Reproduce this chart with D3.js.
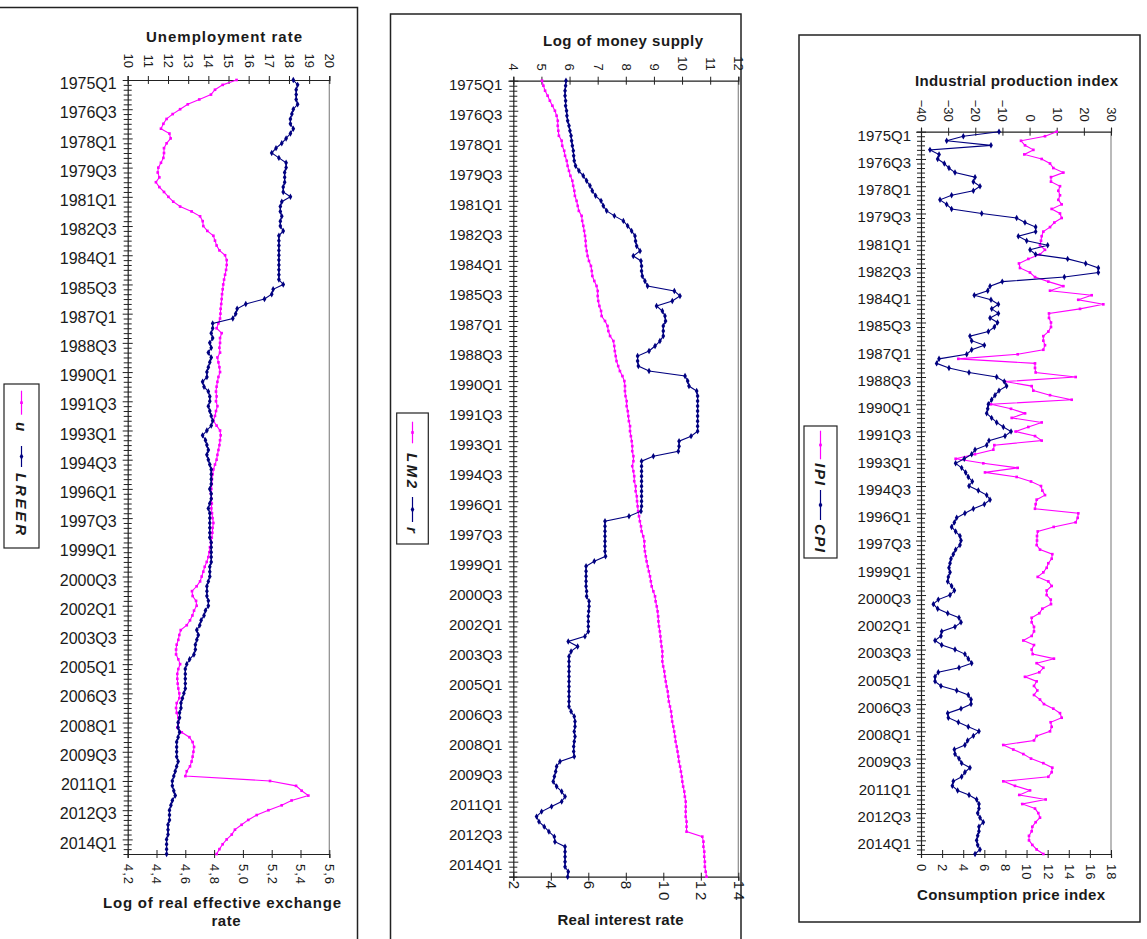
<!DOCTYPE html>
<html>
<head>
<meta charset="utf-8">
<script src="https://cdn.jsdelivr.net/npm/d3@7"></script>
<style>
  body { margin: 0; background: #fff; }
  text { font-family: "Liberation Sans", Arial, sans-serif; fill: #1a1a1a; }
</style>
</head>
<body>
<script>
/* Quarterly data, 1975Q1 .. 2014Q4 (160 quarters) */
var quarters = [];
for (var yr = 1975; yr <= 2014; yr++) {
  for (var q = 1; q <= 4; q++) quarters.push(yr + "Q" + q);
}

/* Panel 1: unemployment rate (top axis) and log REER (bottom axis) */
var u = [15.40,14.71,14.33,14.13,13.55,12.98,12.60,12.23,11.93,11.77,
  11.65,12.07,12.13,11.93,11.80,11.80,11.77,11.65,11.52,11.49,
  11.57,11.40,11.57,11.80,12.02,12.26,12.60,13.17,13.59,13.72,
  13.75,13.95,14.25,14.33,14.41,14.55,14.83,14.91,14.91,14.88,
  14.83,14.78,14.74,14.71,14.68,14.66,14.64,14.61,14.60,14.58,
  14.50,14.41,14.66,14.58,14.58,14.55,14.58,14.45,14.50,14.55,
  14.58,14.50,14.45,14.41,14.38,14.41,14.38,14.45,14.38,14.33,
  14.25,14.41,14.58,14.61,14.58,14.55,14.50,14.45,14.41,14.33,
  14.25,14.21,14.18,14.17,14.15,14.13,14.15,14.17,14.15,14.18,
  14.21,14.25,14.21,14.20,14.17,14.13,14.08,14.05,14.00,13.92,
  13.82,13.75,13.67,13.59,13.42,13.19,13.22,13.39,13.42,13.29,
  13.21,13.09,12.93,12.63,12.56,12.51,12.43,12.40,12.40,12.51,
  12.60,12.51,12.46,12.46,12.48,12.51,12.56,12.56,12.43,12.40,
  12.43,12.51,12.51,12.46,12.68,13.06,13.22,13.29,13.26,13.22,
  13.17,13.09,12.93,12.86,17.06,18.35,18.63,18.96,18.13,17.64,
  16.98,16.40,15.98,15.65,15.32,15.16,14.91,14.71,14.55,14.41];

var lreer = [5.35,5.38,5.37,5.37,5.37,5.38,5.35,5.34,5.33,5.33,
  5.35,5.33,5.30,5.27,5.23,5.20,5.25,5.30,5.30,5.29,
  5.29,5.29,5.28,5.28,5.33,5.27,5.26,5.26,5.27,5.26,
  5.26,5.28,5.25,5.25,5.25,5.25,5.25,5.25,5.25,5.25,
  5.25,5.25,5.28,5.21,5.20,5.15,5.02,4.96,4.95,4.93,
  4.79,4.79,4.78,4.79,4.77,4.78,4.76,4.78,4.77,4.76,
  4.75,4.75,4.72,4.73,4.76,4.77,4.77,4.76,4.77,4.78,
  4.79,4.78,4.75,4.72,4.74,4.75,4.76,4.75,4.76,4.77,
  4.78,4.78,4.78,4.78,4.77,4.78,4.78,4.77,4.76,4.77,
  4.77,4.77,4.77,4.77,4.77,4.78,4.78,4.78,4.78,4.78,
  4.77,4.77,4.77,4.76,4.75,4.75,4.75,4.76,4.76,4.74,
  4.73,4.71,4.70,4.68,4.69,4.68,4.67,4.67,4.66,4.63,
  4.61,4.60,4.60,4.60,4.60,4.60,4.59,4.58,4.57,4.57,
  4.56,4.56,4.55,4.55,4.56,4.55,4.54,4.54,4.54,4.54,
  4.55,4.54,4.53,4.52,4.51,4.51,4.52,4.53,4.51,4.50,
  4.49,4.49,4.49,4.48,4.48,4.48,4.47,4.47,4.47,4.47];

/* Panel 2: log of money supply (top axis) and real interest rate (bottom axis) */
var lm2 = [5.02,5.07,5.13,5.22,5.30,5.39,5.48,5.54,5.58,5.58,
  5.60,5.62,5.72,5.74,5.81,5.84,5.90,5.93,5.98,6.03,
  6.10,6.13,6.17,6.19,6.25,6.29,6.33,6.43,6.45,6.49,
  6.52,6.55,6.57,6.58,6.61,6.64,6.69,6.76,6.79,6.81,
  6.88,6.96,7.00,7.00,7.02,7.06,7.12,7.14,7.26,7.35,
  7.38,7.44,7.56,7.59,7.61,7.64,7.67,7.73,7.79,7.88,
  7.95,7.97,7.97,7.99,8.03,8.03,8.07,8.09,8.11,8.15,
  8.15,8.18,8.21,8.23,8.23,8.27,8.27,8.23,8.27,8.30,
  8.30,8.35,8.35,8.39,8.40,8.42,8.44,8.47,8.50,8.54,
  8.56,8.62,8.66,8.66,8.68,8.71,8.74,8.78,8.82,8.86,
  8.89,8.92,8.98,9.04,9.06,9.10,9.13,9.15,9.16,9.18,
  9.21,9.23,9.25,9.27,9.30,9.30,9.30,9.33,9.37,9.39,
  9.42,9.45,9.49,9.51,9.53,9.57,9.61,9.63,9.65,9.69,
  9.72,9.75,9.77,9.81,9.84,9.87,9.89,9.93,9.96,9.99,
  10.01,10.04,10.08,10.10,10.13,10.13,10.13,10.13,10.16,10.16,
  10.16,10.72,10.76,10.76,10.79,10.79,10.81,10.81,10.84,10.87];

var r = [4.81,4.79,4.76,4.76,4.79,4.79,4.84,4.86,4.90,4.97,
  5.02,5.08,5.11,5.15,5.20,5.22,5.25,5.32,5.50,5.73,
  5.91,6.09,6.21,6.39,6.68,6.80,6.98,7.39,7.87,8.10,
  8.31,8.49,8.52,8.58,8.76,8.40,8.81,8.84,8.84,8.88,
  9.02,9.16,10.59,10.89,10.48,9.64,9.95,10.09,10.12,10.00,
  10.00,10.00,9.82,9.56,9.24,8.63,8.63,8.67,9.24,11.16,
  11.30,11.37,11.78,11.83,11.83,11.83,11.83,11.83,11.83,11.83,
  11.83,11.48,10.84,10.84,10.80,9.47,8.84,8.84,8.84,8.84,
  8.84,8.84,8.84,8.84,8.84,8.84,8.81,8.17,6.89,6.89,
  6.89,6.89,6.89,6.89,6.89,6.92,6.32,5.88,5.88,5.88,
  5.88,5.88,5.91,5.91,6.04,6.04,6.02,6.00,6.00,6.00,
  6.00,5.82,4.93,5.43,5.08,4.97,4.97,4.97,4.97,4.97,
  4.97,4.97,4.97,4.97,4.97,4.97,5.08,5.25,5.29,5.29,
  5.25,5.29,5.25,5.22,5.22,5.25,4.49,4.31,4.26,4.19,
  4.13,4.31,4.58,4.76,4.58,4.04,3.51,3.24,3.37,3.65,
  3.90,4.19,4.22,4.76,4.76,4.76,4.76,4.76,4.93,4.90];

/* Panel 3: industrial production index (top axis) and CPI (bottom axis) */
var ipi = [9.98,5.68,-3.16,-1.68,1.39,-1.93,4.46,7.53,8.75,12.44,
  7.89,7.89,11.21,10.60,11.21,10.60,11.82,8.14,11.21,11.82,
  9.12,7.53,5.07,4.46,4.21,3.84,5.68,3.84,-0.46,-3.90,
  -3.53,0.15,2.00,6.91,12.44,7.53,22.88,17.96,27.17,18.58,
  7.16,7.16,7.89,7.89,6.91,5.07,5.07,5.68,5.07,-4.39,
  -26.25,2.00,2.00,2.24,16.98,-9.05,0.77,1.39,7.53,15.51,
  -14.21,-6.84,-1.68,-6.58,4.46,-0.46,-5.12,2.00,4.46,-12.98,
  -13.35,-20.11,-27.23,-17.04,-4.39,-16.42,-4.75,0.53,4.21,4.70,
  5.68,2.61,2.24,2.00,17.96,17.72,16.98,8.88,3.00,2.74,
  2.74,2.61,3.84,8.38,8.14,6.91,6.30,5.07,3.00,6.91,
  8.14,6.30,6.30,7.80,7.89,4.70,3.60,0.77,0.77,1.63,
  1.63,0.77,-2.30,1.63,0.77,1.14,8.97,2.61,5.07,3.60,
  -1.68,2.61,1.63,2.86,1.63,3.84,5.30,8.75,11.21,11.82,
  7.76,8.14,7.53,2.61,1.63,-9.67,-5.98,-2.30,0.53,5.07,
  8.38,8.14,6.91,-9.67,-5.37,0.16,-3.78,5.93,-2.67,2.00,
  3.22,3.84,2.24,1.02,0.77,-0.21,-0.21,1.02,2.61,5.07];

var cpi = [7.39,4.01,2.43,6.63,0.85,1.71,1.58,2.21,2.65,3.22,
  5.12,4.96,5.59,4.96,2.90,1.80,2.43,2.90,5.75,9.06,
  9.85,10.86,10.86,9.22,10.01,12.00,10.33,10.86,13.89,15.60,
  16.80,16.80,13.58,7.70,6.54,6.32,5.05,6.63,7.33,6.70,
  7.33,6.54,7.25,6.95,6.38,4.64,4.80,6.00,4.80,4.33,
  1.71,1.48,2.65,4.55,7.17,7.89,8.11,7.39,7.01,6.69,
  6.38,6.32,6.22,6.69,7.17,7.80,8.53,7.96,6.44,6.22,
  5.12,4.80,4.10,3.28,3.85,4.23,4.48,4.86,4.55,5.43,
  6.22,6.54,6.00,4.96,4.16,3.38,3.16,2.90,3.28,3.69,
  3.79,3.69,3.28,3.06,2.84,2.75,2.65,2.75,2.59,2.53,
  2.90,3.16,2.75,1.64,1.17,1.58,2.53,3.60,3.79,3.22,
  1.96,1.89,1.33,1.96,3.22,4.16,4.48,4.80,3.60,1.64,
  1.33,1.33,1.89,3.38,4.48,4.74,4.74,3.79,2.53,2.59,
  3.54,4.48,5.49,4.96,4.42,4.16,3.16,3.22,3.60,3.85,
  4.64,4.16,3.85,3.06,2.97,3.47,4.55,5.27,5.49,5.49,
  5.37,5.59,5.90,5.49,5.49,5.37,5.27,5.37,5.59,5.12];

/* Tick values for the value axes */
var uTicks = [10,11,12,13,14,15,16,17,18,19,20];
var lreerTicks = [4.2,4.4,4.6,4.8,5.0,5.2,5.4,5.6];
var lm2Ticks = [4,5,6,7,8,9,10,11,12];
var rTicks = [2,4,6,8,10,12,14];
var ipiTicks = [-40,-30,-20,-10,0,10,20,30];
var cpiTicks = [0,2,4,6,8,10,12,14,16,18];

var MAGENTA = "#ff00ff", NAVY = "#000080";

var svg = d3.select("body").append("svg")
    .attr("width", 1147)
    .attr("height", 939);

/*
 * Layout of each panel. Legend "items" give, per series, the offsets of the
 * line sample [start, end] and of the rotated label [start, length] from the
 * top of the legend box.
 */
var panels = [
  { frame: [-1, 7.5, 358.5, 940], left: 127.7, right: 329.3, top: 80, bottom: 854,
    top_s: { data: u, ticks: uTicks, fmt: d3.format("d"), pad: 12 },
    bot_s: { data: lreer, ticks: lreerTicks, fmt: function(d) { return d3.format(".1f")(d).replace(".", ","); }, pad: 10 },
    topTitle: { text: "Unemployment rate", x: 224, y: 42, w: 156 },
    botTitle: [{ text: "Log of real effective exchange", x: 222, y: 908, w: 238 },
               { text: "rate", x: 226, y: 926, w: 29 }],
    yFont: 16, yLabelX: -11,
    legend: { x: 4, y: 384, w: 35, h: 164, names: ["u", "LREER"],
              items: [{ line: [6.7, 30.7], text: [38, 9] }, { line: [62, 83], text: [89, 62] }] } },
  { frame: [390.5, 14, 350.5, 935], left: 513.3, right: 738.3, top: 80.7, bottom: 876.7,
    top_s: { data: lm2, ticks: lm2Ticks, fmt: d3.format("d"), pad: 10 },
    bot_s: { data: r, ticks: rTicks, fmt: d3.format("d"), pad: 4, big: true },
    topTitle: { text: "Log of money supply", x: 623, y: 46, w: 160 },
    botTitle: [{ text: "Real interest rate", x: 620.5, y: 925, w: 126 }],
    yFont: 15, yLabelX: -11,
    legend: { x: 396.7, y: 413, w: 31.6, h: 131, names: ["LM2", "r"],
              items: [{ line: [8.7, 30.3], text: [40, 35] }, { line: [84, 109], text: [114, 8] }] } },
  { frame: [799, 35, 341, 887], left: 921, right: 1111, top: 131.7, bottom: 854,
    top_s: { data: ipi, ticks: ipiTicks, fmt: d3.format("d"), pad: 10 },
    bot_s: { data: cpi, ticks: cpiTicks, fmt: d3.format("d"), pad: 10 },
    topTitle: { text: "Industrial production index", x: 1016.5, y: 86, w: 203 },
    botTitle: [{ text: "Consumption price index", x: 1011, y: 900, w: 188 }],
    yFont: 15, yLabelX: -10,
    legend: { x: 804, y: 426, w: 33, h: 132, names: ["IPI", "CPI"],
              items: [{ line: [4.7, 33.3], text: [37, 22] }, { line: [64, 94], text: [98, 28] }] } }
];

panels.forEach(drawPanel);

function drawPanel(p) {
  var g = svg.append("g");

  g.append("rect")
      .attr("x", p.frame[0]).attr("y", p.frame[1])
      .attr("width", p.frame[2]).attr("height", p.frame[3])
      .attr("fill", "none").attr("stroke", "#222").attr("stroke-width", 1.5);

  var y = d3.scalePoint().domain(quarters).range([p.top, p.bottom]);
  var xt = d3.scaleLinear().domain(d3.extent(p.top_s.ticks)).range([p.left, p.right]);
  var xb = d3.scaleLinear().domain(d3.extent(p.bot_s.ticks)).range([p.left, p.right]);

  // plot area right border
  g.append("line")
      .attr("x1", p.right).attr("x2", p.right)
      .attr("y1", p.top).attr("y2", p.bottom)
      .attr("stroke", "#8c8c8c").attr("stroke-width", 1.2);

  // category axis, one tick per quarter, label every sixth
  var ya = g.append("g")
      .attr("transform", "translate(" + p.left + ",0)")
      .call(d3.axisLeft(y).tickValues(quarters).tickSizeOuter(0).tickSize(4)
        .tickFormat(function(d, i) { return i % 6 === 0 ? d : ""; }));
  ya.selectAll(".tick line")
      .attr("x1", function(d, i) { return i % 6 === 0 ? 5 : 4; })
      .attr("x2", function(d, i) { return i % 6 === 0 ? -5 : -4; })
      .attr("stroke", "#222");
  ya.selectAll(".tick text")
      .attr("x", p.yLabelX).attr("y", 3.5)
      .style("font-size", p.yFont + "px");
  ya.select(".domain").attr("stroke", "#222").attr("stroke-width", 1.2);

  // top value axis
  var ta = g.append("g")
      .attr("transform", "translate(0," + p.top + ")")
      .call(d3.axisTop(xt).tickValues(p.top_s.ticks).tickSizeOuter(0).tickSize(4)
        .tickFormat(p.top_s.fmt));
  ta.selectAll(".tick line").attr("y1", 4).attr("stroke", "#222");
  ta.selectAll(".tick text")
      .attr("transform", "rotate(90)")
      .attr("x", -p.top_s.pad).attr("y", 0).attr("dy", "0.35em")
      .attr("text-anchor", "end")
      .style("font-size", "13px");
  ta.select(".domain").attr("stroke", "#222").attr("stroke-width", 1.2);

  // bottom value axis
  var ba = g.append("g")
      .attr("transform", "translate(0," + p.bottom + ")")
      .call(d3.axisBottom(xb).tickValues(p.bot_s.ticks).tickSizeOuter(0).tickSize(4)
        .tickFormat(p.bot_s.fmt));
  ba.selectAll(".tick line").attr("y1", -4).attr("stroke", "#222");
  ba.selectAll(".tick text")
      .attr("transform", "rotate(90)")
      .attr("x", p.bot_s.pad).attr("y", 0).attr("dy", "0.35em")
      .attr("text-anchor", "start")
      .style("font-size", p.bot_s.big ? "15px" : "13px")
      .style("letter-spacing", p.bot_s.big ? "3px" : "1px");
  ba.select(".domain").attr("stroke", "#222").attr("stroke-width", 1.2);

  // titles
  [p.topTitle].concat(p.botTitle).forEach(function(t) {
    g.append("text")
        .attr("x", t.x).attr("y", t.y)
        .attr("text-anchor", "middle")
        .attr("textLength", t.w).attr("lengthAdjust", "spacing")
        .style("font-size", "15px").style("font-weight", "bold")
        .text(t.text);
  });

  // series: top-axis series in magenta with squares, bottom-axis in navy with diamonds
  drawSeries(g, p.top_s.data, xt, y, MAGENTA, "square");
  drawSeries(g, p.bot_s.data, xb, y, NAVY, "diamond");

  drawLegend(g, p.legend);
}

function drawSeries(g, data, x, y, color, marker) {
  var line = d3.line()
      .x(function(d) { return x(d); })
      .y(function(d, i) { return y(quarters[i]); });
  g.append("path")
      .datum(data)
      .attr("d", line)
      .attr("fill", "none")
      .attr("stroke", color)
      .attr("stroke-width", 1.1);
  var sym = d3.symbol()
      .type(marker === "square" ? d3.symbolSquare : d3.symbolDiamond)
      .size(marker === "square" ? 7 : 12);
  g.selectAll(null)
      .data(data)
    .enter().append("path")
      .attr("d", sym)
      .attr("transform", function(d, i) {
        return "translate(" + x(d) + "," + y(quarters[i]) + ")";
      })
      .attr("fill", color);
}

function drawLegend(g, L) {
  var lg = g.append("g");
  lg.append("rect")
      .attr("x", L.x).attr("y", L.y).attr("width", L.w).attr("height", L.h)
      .attr("fill", "#fff").attr("stroke", "#222").attr("stroke-width", 1.2);
  var cx = L.x + L.w / 2;
  var colors = [MAGENTA, NAVY];
  L.names.forEach(function(name, k) {
    var it = L.items[k];
    lg.append("line")
        .attr("x1", cx).attr("x2", cx)
        .attr("y1", L.y + it.line[0]).attr("y2", L.y + it.line[1])
        .attr("stroke", colors[k]).attr("stroke-width", 1.2);
    lg.append("path")
        .attr("d", d3.symbol().type(k === 0 ? d3.symbolSquare : d3.symbolDiamond).size(k === 0 ? 7 : 12))
        .attr("transform", "translate(" + cx + "," + (L.y + (it.line[0] + it.line[1]) / 2) + ")")
        .attr("fill", colors[k]);
    var t = lg.append("text")
        .attr("transform", "translate(" + cx + "," + (L.y + it.text[0]) + ") rotate(90)")
        .attr("dy", "0.35em")
        .style("font-size", "15px").style("font-weight", "bold").style("font-style", "italic")
        .text(name);
    if (name.length > 1) t.attr("textLength", it.text[1]).attr("lengthAdjust", "spacing");
  });
}
</script>
</body>
</html>
